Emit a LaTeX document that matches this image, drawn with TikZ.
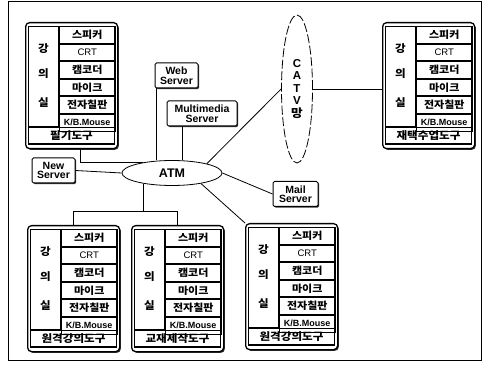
\documentclass[tikz,border=0pt]{standalone}
\usepackage{fontspec}
\setsansfont{Liberation Sans}
\newfontfamily\krfont{Noto Sans CJK KR}[FakeStretch=1.1]
\usetikzlibrary{shapes.geometric,positioning,calc,shadows}

% one lecture-room box: name, top-left x, top-left y, caption
\newcommand{\lecroom}[4]{%
  \node[roombox, anchor=north west] (#1) at (#2,#3) {};
  \node[innerbox, anchor=north west] (#1-in) at ($(#1.north west)+(3,4)$) {};
  \node[sidebox, anchor=north west] (#1-side) at (#1-in.north west) {};
  \node[sidetext] (#1-k1) at ($(#1-side.north)+(0,23)$) {강};
  \node[sidetext] (#1-k2) at ($(#1-side.north)+(0,48)$) {의};
  \node[sidetext] (#1-k3) at ($(#1-side.north)+(0,77)$) {실};
  \node[itembox, anchor=north west] (#1-r1) at (#1-side.north east) {스피커};
  \node[itembox, below=0pt of #1-r1, font=\sffamily\fontsize{9.5}{10}\selectfont] (#1-r2) {CRT};
  \node[itembox, below=0pt of #1-r2] (#1-r3) {캠코더};
  \node[itembox, below=0pt of #1-r3] (#1-r4) {마이크};
  \node[itembox, below=0pt of #1-r4] (#1-r5) {전자칠판};
  \node[itembox, below=0pt of #1-r5, font=\sffamily\bfseries\fontsize{9}{10}\selectfont] (#1-r6) {K/B.Mouse};
  \node[lblbox, anchor=north west] (#1-lbl) at (#1-side.south west) {#4};
}

\begin{document}
\begin{tikzpicture}[x=1pt, y=-1pt, line width=0.8pt,
    roombox/.style={rectangle, draw, line width=1.3pt, rounded corners=4pt, fill=white, minimum width=92pt, minimum height=126pt, inner sep=0pt,
      drop shadow={shadow xshift=1.2pt, shadow yshift=-1.2pt, fill=black, opacity=0.8}},
    innerbox/.style={rectangle, draw, line width=1pt, minimum width=86pt, minimum height=117pt, inner sep=0pt},
    sidebox/.style={rectangle, draw, minimum width=30pt, minimum height=100pt, inner sep=0pt},
    sidetext/.style={inner sep=0pt, font=\krfont\bfseries\fontsize{10.5}{10}\selectfont},
    itembox/.style={rectangle, draw, line width=0.9pt, minimum width=56pt, minimum height=16.67pt, inner sep=0pt, font=\krfont\bfseries\fontsize{10}{10}\selectfont},
    lblbox/.style={rectangle, draw, line width=1pt, minimum width=86pt, minimum height=17pt, inner sep=0pt, font=\krfont\bfseries\fontsize{10.5}{10}\selectfont},
    server/.style={rectangle, draw, line width=1pt, fill=white, rounded corners=1.5pt, align=center, inner sep=1pt, minimum height=25pt, font=\sffamily\bfseries\fontsize{10.5}{9.5}\selectfont,
      drop shadow={shadow xshift=1.2pt, shadow yshift=-1.2pt, fill=black, opacity=0.8}},
    hub/.style={ellipse, draw, fill=white, minimum width=100pt, minimum height=25pt, inner sep=0pt, font=\sffamily\bfseries\fontsize{12.5}{12}\selectfont},
    net/.style={ellipse, draw, dash pattern=on 9pt off 2.5pt, minimum width=31pt, minimum height=148pt, inner sep=0pt, align=center, font=\sffamily\bfseries\fontsize{11.5}{12.5}\selectfont}]

    \useasboundingbox (0,0) rectangle (483,369);
    \draw[line width=1pt] (8,2) rectangle (481,360);

    % lecture rooms
    \lecroom{b1}{25}{22}{필기도구}
    \lecroom{b2}{382}{22}{재택수업도구}
    \lecroom{bA}{27}{225}{원격강의도구}
    \lecroom{bB}{131}{225}{교재제작도구}
    \lecroom{bC}{245}{223}{원격강의도구}

    % servers and networks
    \node[hub] (atm) at (172,173) {ATM};
    \node[net] (catv) at (297,89) {C\\A\\T\\V\\{\krfont\bfseries 망}};
    \node[server, minimum width=43pt] (web) at (176.5,75.5) {Web\\Server};
    \node[server, minimum width=70pt] (mms) at (202,113.5) {Multimedia\\Server};
    \node[server, minimum width=43pt] (news) at (53.5,170.5) {New\\Server};
    \node[server, minimum width=45pt] (mail) at (295.5,194) {Mail\\Server};

    % links
    \coordinate (webfoot) at ($(web.south west)+(2,0)$);
    \coordinate (mmsfoot) at ($(mms.south west)+(16,0)$);
    \coordinate (b1foot) at ($(b1.south west)+(55,0)$);
    \coordinate (split) at ($(atm.-160)+(0,28)$);
    \draw (webfoot) -- (webfoot |- atm.north);
    \draw (mmsfoot) -- (mmsfoot |- atm.north);
    \draw (b1foot) |- (atm.160);
    \draw (news.east) -- (atm.west);
    \draw (atm.east) -- (mail.west);
    \draw (atm.15) -- (catv.west);
    \draw (catv.east) -- (catv.east -| b2.west);
    \draw (atm.-20) -- (bC.north west);
    \draw (atm.-160) -- (split);
    \draw (bA.north) |- (split) -| (bB.north);
\end{tikzpicture}
\end{document}
